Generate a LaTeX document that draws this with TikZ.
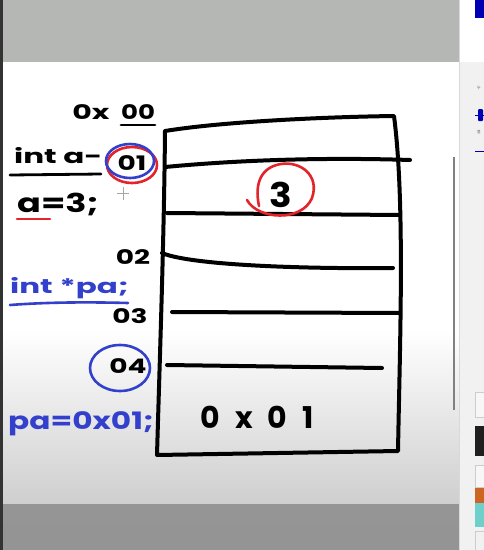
\documentclass[tikz,border=0pt]{standalone}
\usepackage{fontspec}
\setmainfont{Poppins}
\newfontfamily\kofont{Noto Sans CJK KR}
\definecolor{mred}{HTML}{E3242B}
\definecolor{mblue}{HTML}{3340CC}
\definecolor{topgrey}{HTML}{B5B7B5}
\definecolor{botgrey}{HTML}{959595}
\definecolor{panel}{HTML}{F1F1F1}
\definecolor{porange}{HTML}{CC6522}
\definecolor{pteal}{HTML}{6FCFCB}
\newcommand{\hw}[2][1.5]{\scalebox{#1}[1]{#2}}
\tikzset{
  ink/.style={line width=4pt, line cap=round, line join=round, black},
  redink/.style={line width=2.6pt, line cap=round, mred},
  blueink/.style={line width=2.6pt, line cap=round, mblue},
  hand/.style={inner sep=0pt, font=\fontsize{20}{20}\selectfont\bfseries},
  bighand/.style={inner sep=0pt, font=\fontsize{34}{34}\selectfont\bfseries},
  bluehand/.style={hand, text=mblue},
}
\begin{document}
\begin{tikzpicture}[x=1pt,y=-1pt]
\useasboundingbox (0,0) rectangle (484,550);
% screen background
\fill[white] (0,62) rectangle (459,330);
\shade[top color=white, bottom color=black!19] (0,330) rectangle (459,504);
\fill[topgrey] (0,0) rectangle (459,62);
\shade[top color=botgrey, bottom color=black!42] (0,504) rectangle (459,550);
\fill[black!80] (0,0) rectangle (3,550);
% right panel
\fill[panel] (459,0) rectangle (484,550);
\fill[white] (459,0) rectangle (484,62);
\draw[black!15] (459,0) -- (459,550);
\fill[blue!70!black] (475,0) rectangle (484,18);
\node[inner sep=0pt, font=\kofont\fontsize{4}{4}\selectfont, text=black!60] (t1) at (479,88) {두};
\draw[blue!70!black, line width=1pt] (475,115) -- (484,115);
\fill[blue!70!black, rounded corners=1pt] (478,109) rectangle (483,121);
\node[inner sep=0pt, font=\kofont\fontsize{4}{4}\selectfont, text=black!60] (t2) at (479,132) {볼};
\draw[blue!70!black, line width=0.8pt] (475,151) -- (484,151);
\draw[black!20, fill=black!3] (475,392) rectangle (486,417);
\fill[black!88] (475,426) rectangle (486,456);
\draw[black!20, fill=black!3] (475,465) rectangle (486,487);
\fill[porange] (475,488) rectangle (486,503);
\fill[pteal] (475,503) rectangle (486,527);
\draw[black!20] (475,531) rectangle (486,552);
% scrollbar
\fill[black!50] (452.5,157) rectangle (455,410);

% memory box
\draw[ink] (165,131) .. controls (164,240) and (160,350) .. (157,455)
  -- (398,451) .. controls (400,340) and (405,200) .. (394,116)
  .. controls (320,117) and (220,122) .. (165,131);
\draw[ink] (165,167) .. controls (260,158) and (350,158) .. (410,160);
\draw[ink] (167,213) -- (400,215);
\draw[ink] (162,253) .. controls (190,265) and (300,269) .. (393,268);
\draw[ink] (172,312) -- (400,313);
\draw[ink] (167,365) -- (382,368);

% cell contents
\node[bighand] (three) at (281,195) {\hw[1.1]{3}};
\draw[redink] (247,200) .. controls (258,220) and (302,222) .. (312,198)
  .. controls (320,175) and (300,161) .. (281,164)
  .. controls (262,167) and (254,182) .. (259,206);
\node[bighand, font=\fontsize{30}{30}\selectfont\bfseries] (addr) at (257,417) {0\,\,\,x\,\,\,0\,\,\,1};

% left labels
\node[hand] (ox) at (91,112) {\hw{0x}};
\node[hand] (oo) at (138,112) {\hw[1.3]{00}};
\draw[line width=2.8pt, line cap=round] (121,125) -- (155,125);
\node[hand, anchor=west] (inta) at (14,156) {\hw[1.55]{int a-}};
\node[hand] (a01) at (132,163) {\hw[1.4]{01}};
\draw[line width=2.8pt, line cap=round] (10,175) -- (101,174);
\draw[redink] (132,165) ellipse [x radius=25, y radius=18];
\draw[blueink] (130,161) ellipse [x radius=24, y radius=17];
\node[hand, anchor=west, font=\fontsize{26}{26}\selectfont\bfseries] (aeq) at (17,204) {\hw[1.35]{a=3;}};
\draw[redink] (17,219) -- (50,219);
% cursor
\draw[black!35, line width=0.7pt] (123,187) -- (123,200) (117,193) -- (129,193);

\node[hand] (o2) at (133,257) {\hw[1.4]{02}};
\node[bluehand, anchor=west] (intpa) at (10,288) {\hw[1.55]{int *pa;}};
\draw[blueink] (10,305) .. controls (50,302) and (90,302) .. (128,303);
\node[hand] (o3) at (130,316) {\hw[1.4]{03}};
\node[hand] (o4) at (128,366) {\hw[1.4]{04}};
\draw[blueink] (120,368) ellipse [x radius=30, y radius=23];
\node[bluehand, anchor=west, font=\fontsize{24}{24}\selectfont\bfseries] (paeq) at (8,424) {\hw[1.3]{pa=0x01;}};
\end{tikzpicture}
\end{document}
